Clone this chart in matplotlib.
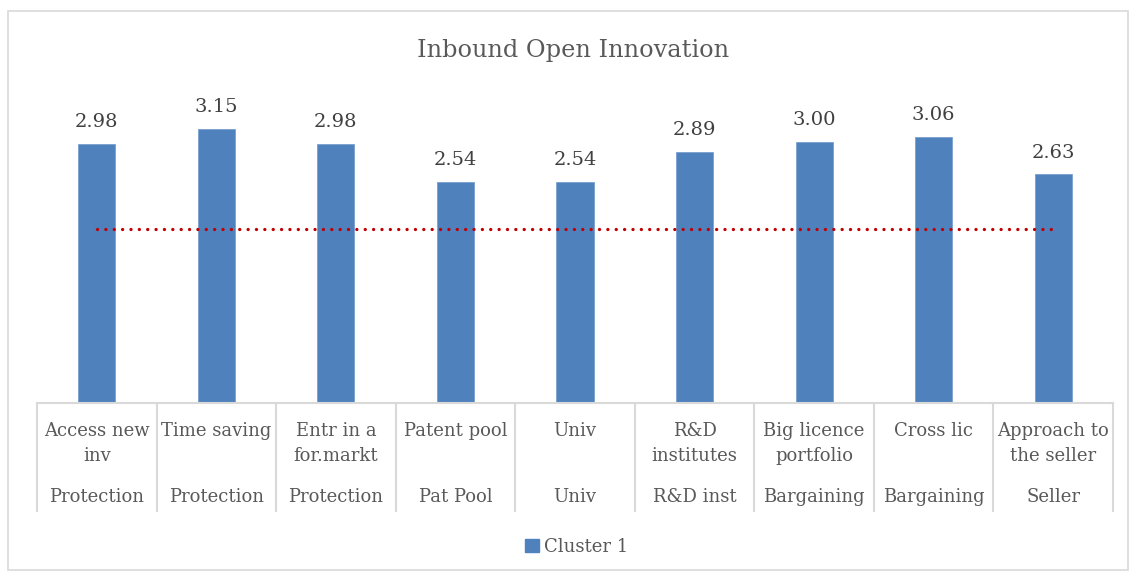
import numpy as np
import matplotlib.pyplot as plt
from matplotlib.patches import Rectangle, Patch

plt.rcParams['font.family'] = ['DejaVu Serif']

labels = ["Access new\ninv", "Time saving", "Entr in a\nfor.markt", "Patent pool", "Univ",
          "R&D\ninstitutes", "Big licence\nportfolio", "Cross lic", "Approach to\nthe seller"]
groups = ["Protection", "Protection", "Protection", "Pat Pool", "Univ",
          "R&D inst", "Bargaining", "Bargaining", "Seller"]
values = [2.98, 3.15, 2.98, 2.54, 2.54, 2.89, 3.00, 3.06, 2.63]
threshold = 2.0

W, H = 1136, 575
fig = plt.figure(figsize=(W / 100, H / 100), dpi=100)
fig.patches.append(Rectangle((8 / W, 5 / H), 1120 / W, 559 / H, transform=fig.transFigure,
                             fill=False, edgecolor='#d9d9d9', linewidth=1.2))

ax = fig.add_axes([37 / W, (H - 403) / H, 1076 / W, 304.5 / H])
x = np.arange(len(values))
ax.bar(x, values, width=0.31, color='#4F81BD', edgecolor='#7aa0d0', linewidth=0.6, zorder=2)
ax.set_xlim(-0.5, len(values) - 0.5)
ax.set_ylim(0, 3.5)
for s in ax.spines.values():
    s.set_visible(False)
ax.set_xticks([])
ax.set_yticks([])

# red dotted reference line
ax.plot(x, [threshold] * len(x), color='#C00000', linewidth=2.4,
        dashes=[0.01, 2.5], dash_capstyle='round', zorder=3)

for xi, v in zip(x, values):
    ax.annotate(f"{v:.2f}", (xi, v), xytext=(0, 12), textcoords='offset points',
                ha='center', va='baseline', fontsize=14, color='#404040')

# multi-level category axis
tr = ax.get_xaxis_transform()
ax.plot([-0.5, len(values) - 0.5], [0, 0], transform=tr, color='#d9d9d9', lw=1.5, clip_on=False)
for b in np.arange(len(values) + 1) - 0.5:
    ax.plot([b, b], [0, -0.355], transform=tr, color='#d9d9d9', lw=1.5, clip_on=False)
for xi, lab, g in zip(x, labels, groups):
    ax.text(xi, -0.064, lab, transform=tr, ha='center', va='top', fontsize=13,
            color='#595959', linespacing=1.45)
    ax.text(xi, -0.309, g, transform=tr, ha='center', va='center', fontsize=13, color='#595959')

fig.text(573 / W, 1 - 50 / H, "Inbound Open Innovation", ha='center', va='center',
         fontsize=17.3, color='#595959')

fig.legend(handles=[Patch(color='#4F81BD', label='Cluster 1')], loc='center',
           bbox_to_anchor=(577 / W, 1 - 547 / H), frameon=False, fontsize=13,
           handlelength=0.75, handleheight=0.75, handletextpad=0.3, labelcolor='#595959')

fig.savefig('out.png', dpi=100)
